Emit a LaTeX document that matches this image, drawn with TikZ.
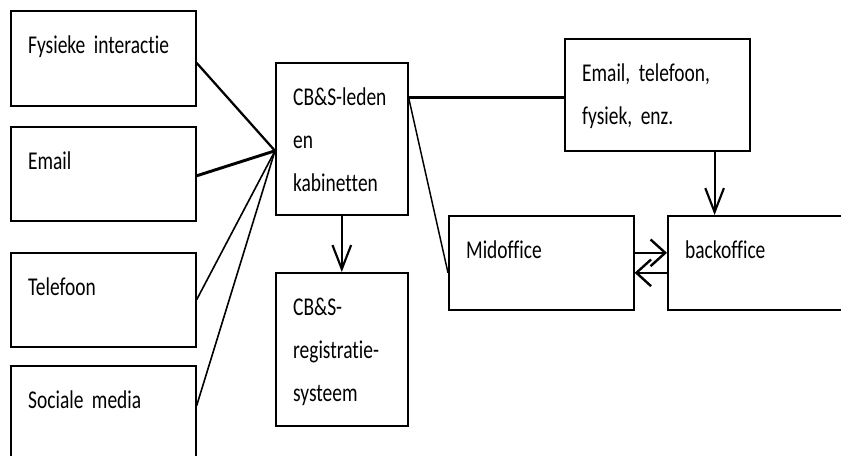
\documentclass[tikz,border=0pt]{standalone}
\usepackage{fontspec}
\setmainfont{Carlito}[FakeStretch=0.76, Ligatures={NoCommon,NoContextual}]
\usetikzlibrary{arrows.meta}

\newcommand\boxfont{\fontsize{19.2pt}{32.25pt}\selectfont
  \spaceskip=3.3pt\relax\xspaceskip=3.3pt\relax}

\tikzset{
  box/.style={draw, line width=1.2pt, anchor=north west, align=left,
    inner xsep=13pt, inner ysep=0pt, text height=32.25pt, font=\boxfont},
  wide/.style={box, text width=112.75pt},
  narrow/.style={box, text width=73pt},
  arrv/.style={line width=1.6pt, -{Straight Barb[length=18pt,width=14pt]}},
  arrh/.style={line width=1.8pt, -{Straight Barb[length=11pt,width=20pt]}},
}

\begin{document}
\begin{tikzpicture}[x=0.75pt,y=-0.75pt]
\useasboundingbox (0,0) rectangle (841,455);

% kanalen
\node[wide, text depth=39pt] (fys) at (10,10) {Fysieke interactie};
\node[wide, text depth=38.25pt] (mail) at (10,126) {Email};
\node[wide, text depth=38.25pt] (tel) at (10,252) {Telefoon};
\node[wide, text depth=39pt] (soc) at (10,365) {Sociale media};

\node[narrow, text depth=81.75pt] (cbs) at (275,62) {CB\&S-leden\\en\\kabinetten};
\node[narrow, text depth=82.5pt] (reg) at (275,272) {CB\&S-\\registratie-\\systeem};

\node[wide, text depth=51.75pt] (kanaal) at (564,38) {Email, telefoon,\\fysiek, enz.};
\node[wide, text depth=38.25pt] (mid) at (448,215) {Midoffice};
\node[wide, text depth=38.25pt] (back) at (667,215) {backoffice};

% lijnen naar CB&S
\coordinate (hub) at ([yshift=-9pt]cbs.west);
\draw[line width=1.7pt] ([yshift=-3.4pt]fys.east) -- (hub);
\draw[line width=2.2pt] ([yshift=-1.5pt]mail.east) -- (hub);
\draw[line width=1.2pt] (tel.east) -- (hub);
\draw[line width=1.2pt] ([yshift=5.6pt]soc.east) -- (hub);

\coordinate (k) at ([yshift=-2pt]kanaal.west);
\draw[line width=1.6pt] (k) -- (k -| cbs.east);
\draw[line width=1.1pt] (k -| cbs.east) -- ([yshift=-7.5pt]mid.west);

\draw[arrv] (cbs.south) -- (reg.north);
\coordinate (d) at ([xshift=-27pt]kanaal.south east);
\draw[arrv] (d) -- (d |- back.north);

\draw[arrh] ([yshift=7.5pt]mid.east) -- ([yshift=7.5pt]back.west);
\draw[arrh] ([yshift=-7.5pt]back.west) -- ([yshift=-7.5pt]mid.east);
\end{tikzpicture}
\end{document}
